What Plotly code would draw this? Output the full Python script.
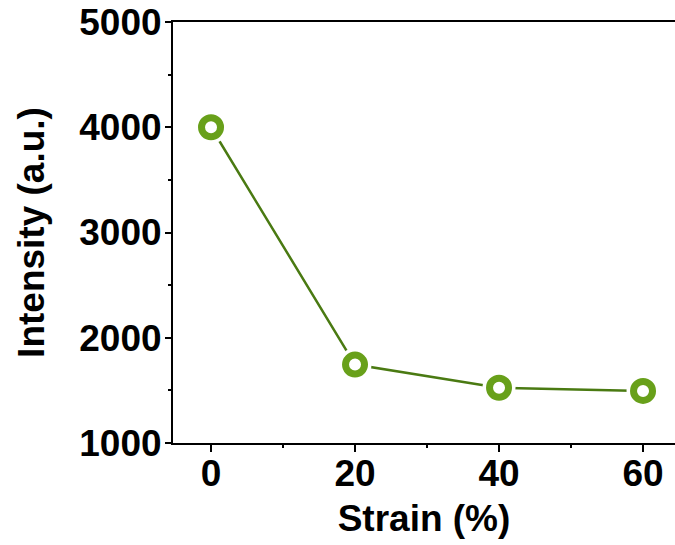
import plotly.graph_objects as go

strain = [0, 20, 40, 60]
intensity = [4000, 1745, 1525, 1495]

x_ticks = [0, 20, 40, 60]
y_ticks = [1000, 2000, 3000, 4000, 5000]

ring_color = "#68a01a"
line_color = "#4a7a12"
font_family = "Liberation Sans, Arial, sans-serif"

fig = go.Figure()
fig.add_trace(go.Scatter(x=strain, y=intensity, mode="lines",
                         line=dict(color=line_color, width=2.5), hoverinfo="skip"))
fig.add_trace(go.Scatter(x=strain, y=intensity, mode="markers",
                         marker=dict(symbol="circle", size=33, color="white", line=dict(width=0)),
                         hoverinfo="skip"))
fig.add_trace(go.Scatter(x=strain, y=intensity, mode="markers",
                         marker=dict(symbol="circle", size=19, color="white",
                                     line=dict(color=ring_color, width=7))))

tick_font = dict(family=font_family, size=37, color="black", weight="bold")
title_font = dict(family=font_family, size=37, color="black", weight="bold")

fig.update_layout(
    width=675, height=545,
    margin=dict(l=173, r=0, t=22, b=102, autoexpand=False),
    plot_bgcolor="white", paper_bgcolor="white",
    showlegend=False,
    font=dict(family=font_family, size=36, color="black"),
)
fig.update_xaxes(
    range=[-5.28, 64.44], automargin=False,
    tickmode="array", tickvals=x_ticks, ticktext=[str(v) for v in x_ticks],
    ticks="outside", ticklen=7, tickwidth=2, tickcolor="black",
    minor=dict(tickmode="array", tickvals=[10, 30, 50], ticks="outside", ticklen=3, tickwidth=2, tickcolor="black"),
    showline=True, linewidth=2, linecolor="black", mirror=True,
    showgrid=False, zeroline=False,
    tickfont=tick_font,
    ticklabelstandoff=-10,
    title=dict(text="Strain (%)", font=title_font, standoff=12),
)
fig.update_yaxes(
    range=[1000, 5000], automargin=False,
    tickmode="array", tickvals=y_ticks, ticktext=[str(v) for v in y_ticks],
    ticks="outside", ticklen=6, tickwidth=2, tickcolor="black",
    minor=dict(tickmode="array", tickvals=[1500, 2500, 3500, 4500], ticks="outside", ticklen=3, tickwidth=2, tickcolor="black"),
    showline=True, linewidth=2, linecolor="black", mirror=False,
    showgrid=False, zeroline=False,
    tickfont=tick_font,
    ticklabelstandoff=-4,
    title=dict(text="Intensity (a.u.)", font=title_font, standoff=23),
)

fig.write_html("out.html", config={"displayModeBar": False},
               post_script="document.body.style.margin='0';document.body.style.overflow='hidden';")
